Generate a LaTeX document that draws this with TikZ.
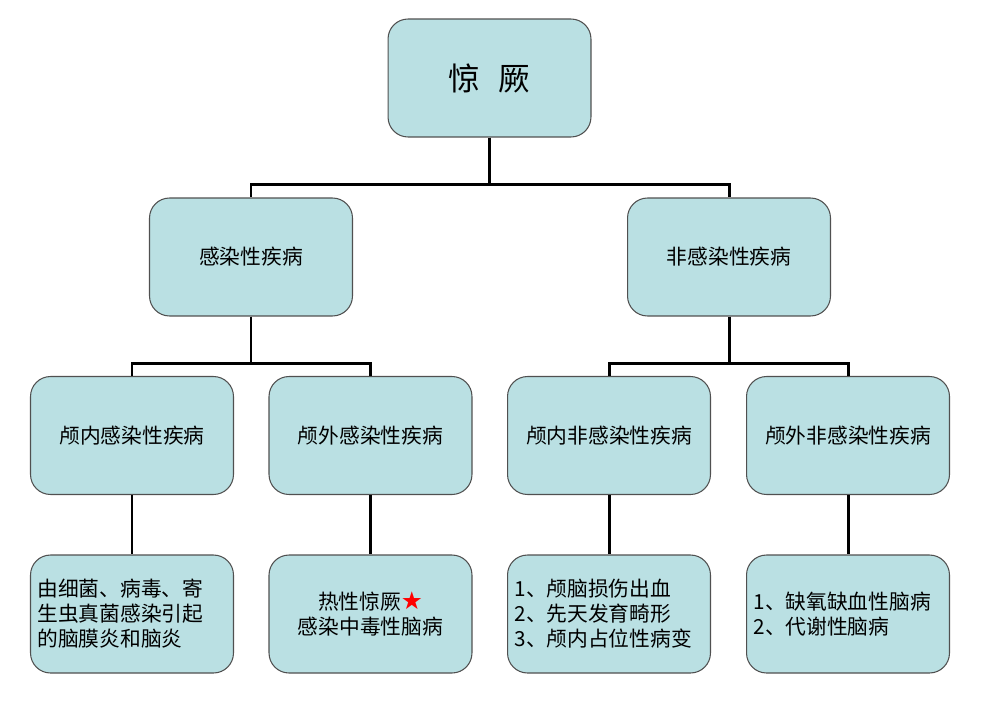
\documentclass[tikz,border=0pt]{standalone}
\usepackage{fontspec}
\setmainfont{Noto Sans CJK SC}
\newfontfamily\symfont{DejaVu Sans}
\usepackage{tikz}
\usetikzlibrary{positioning}

\definecolor{boxfill}{RGB}{186,224,227}
\definecolor{boxline}{RGB}{80,80,80}

\tikzset{
    box/.style={fill=boxfill,draw=boxline,line width=0.6pt,rectangle,rounded corners=0.4cm,
        minimum width=4.06cm,minimum height=2.36cm,text=black,font=\fontsize{11.8}{14.2}\selectfont},
    listbox/.style={box,text width=3.78cm,inner xsep=0.14cm,align=left},
    link/.style={line width=1.7pt,black}
}

\begin{document}
\begin{tikzpicture}[x=0.02cm,y=-0.02cm]
    \useasboundingbox (0,0) rectangle (989,713);

    \node[box,font=\fontsize{18}{20}\selectfont](root)at(489.5,78){惊\hspace{0.6em}厥};

    \node[box](inf)at(251,257){感染性疾病};
    \node[box](noninf)at(729,257){非感染性疾病};

    \node[box](inin)at(132,435.5){颅内感染性疾病};
    \node[box](inout)at(370.5,435.5){颅外感染性疾病};
    \node[box](nonin)at(609,435.5){颅内非感染性疾病};
    \node[box](nonout)at(848,435.5){颅外非感染性疾病};

    \node[listbox](ininx)at(132,614){由细菌、病毒、寄\\生虫真菌感染引起\\的脑膜炎和脑炎};
    \node[box,align=center](inoutx)at(370.5,614){热性惊厥{\symfont\fontsize{14}{14}\selectfont\color{red}★}\\感染中毒性脑病};
    \node[listbox](noninx)at(609,614){1、颅脑损伤出血\\2、先天发育畸形\\3、颅内占位性病变};
    \node[listbox](nonoutx)at(848,614){1、缺氧缺血性脑病\\2、代谢性脑病};

    \draw[link](root.south)--++(0,47)-|(inf.north);
    \draw[link](root.south)--++(0,47)-|(noninf.north);
    \draw[link](inf.south)--++(0,47)-|(inin.north);
    \draw[link](inf.south)--++(0,47)-|(inout.north);
    \draw[link](noninf.south)--++(0,47)-|(nonin.north);
    \draw[link](noninf.south)--++(0,47)-|(nonout.north);
    \draw[link](inin)--(ininx);
    \draw[link](inout)--(inoutx);
    \draw[link](nonin)--(noninx);
    \draw[link](nonout)--(nonoutx);

\end{tikzpicture}
\end{document}
